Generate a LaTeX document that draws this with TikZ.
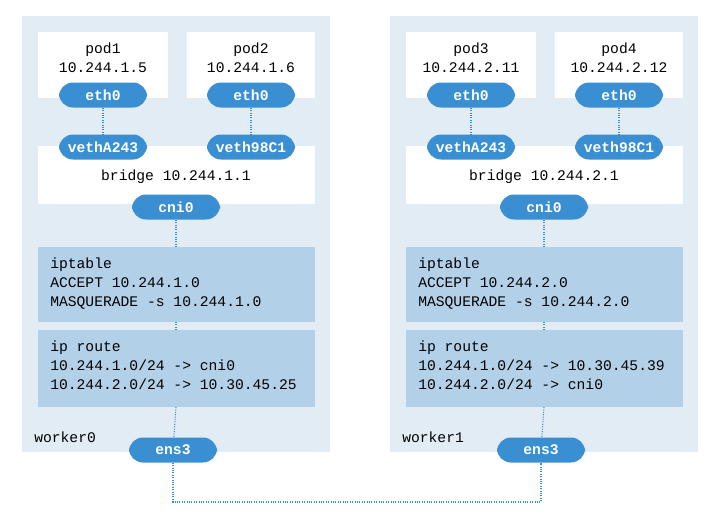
\documentclass[tikz,border=0pt]{standalone}
\usepackage{fontspec}
\setmonofont{Liberation Mono}
\usetikzlibrary{positioning}
\definecolor{panel}{HTML}{E2ECF5}
\definecolor{pill}{HTML}{3A8FD3}
\definecolor{boxblue}{HTML}{B2D0E8}
\tikzset{
  panelbox/.style={fill=panel,draw=none},
  whitebox/.style={fill=white,draw=none},
  bluebox/.style={fill=boxblue,draw=none},
  ifpill/.style={fill=pill,rounded corners=10.5pt,minimum width=88*0.75pt,minimum height=25*0.75pt,
    text=white,font=\fontsize{11}{13}\selectfont\ttfamily\bfseries,inner sep=0pt},
  wire/.style={draw=pill,densely dotted,thick},
  txt/.style={font=\fontsize{11}{14}\selectfont\ttfamily,align=left,inner sep=0pt},
  ctxt/.style={font=\fontsize{11}{14.5}\selectfont\ttfamily,align=center,inner sep=0pt}
}
\begin{document}
\begin{tikzpicture}[x=0.75pt,y=-0.75pt]
  \useasboundingbox (0,0) rectangle (718,518);
  % worker panels
  \foreach \ox/\w/\pa/\pb/\ipa/\ipb/\br/\ac/\rta/\rtb in
    {0/worker0/{pod1\\10.244.1.5}/{pod2\\10.244.1.6}/A/B/10.244.1.1/10.244.1.0/cni0/10.30.45.25,
     368/worker1/{pod3\\10.244.2.11}/{pod4\\10.244.2.12}/C/D/10.244.2.1/10.244.2.0/10.30.45.39/cni0}{
    \begin{scope}[xshift=\ox*0.75pt]
      \fill[panelbox] (22,16) rectangle (330,452);
      \fill[whitebox] (38,32) rectangle (168,98);
      \fill[whitebox] (187,32) rectangle (315,98);
      \fill[whitebox] (38,146) rectangle (315,204);
      \fill[bluebox] (38,247) rectangle (315,322);
      \fill[bluebox] (38,330) rectangle (315,407);
      \node[ctxt] (podl) at (103,58) {\pa};
      \node[ctxt] (podr) at (251,58) {\pb};
      \node[ctxt] (br) at (176,177) {bridge \br};
      \node[txt,anchor=north west] (ipt) at (50,258)
        {iptable\\ACCEPT \ac\\MASQUERADE -s \ac};
      \node[txt,anchor=north west] (rt) at (50,341)
        {ip route\\10.244.1.0/24 -> \rta\\10.244.2.0/24 -> \rtb};
      \node[ifpill] (ethl) at (103,95) {eth0};
      \node[ifpill] (ethr) at (251,95) {eth0};
      \node[ifpill] (vethl) at (103,147) {vethA243};
      \node[ifpill] (vethr) at (251,147) {veth98C1};
      \node[ifpill] (cni) at (176,207) {cni0};
      \node[ifpill] (ens) at (173,450) {ens3};
      \node[txt,anchor=west] (wk) at (34,437) {\w};
      \coordinate (iptt) at (176,247);
      \coordinate (iptb) at (176,322);
      \coordinate (rtt) at (176,330);
      \coordinate (rtb) at (176,407);
      \draw[wire] (ethl) -- (vethl);
      \draw[wire] (ethr) -- (vethr);
      \draw[wire] (cni) -- (iptt);
      \draw[wire] (iptb) -- (rtt);
      \draw[wire] (rtb) -- (ens);
      \coordinate (ens\ipa) at (ens.south);
    \end{scope}
  }
  \coordinate (bendA) at (173,502);
  \coordinate (bendC) at (541,502);
  \draw[wire] (ensA) -- (bendA) -- (bendC) -- (ensC);
\end{tikzpicture}
\end{document}
